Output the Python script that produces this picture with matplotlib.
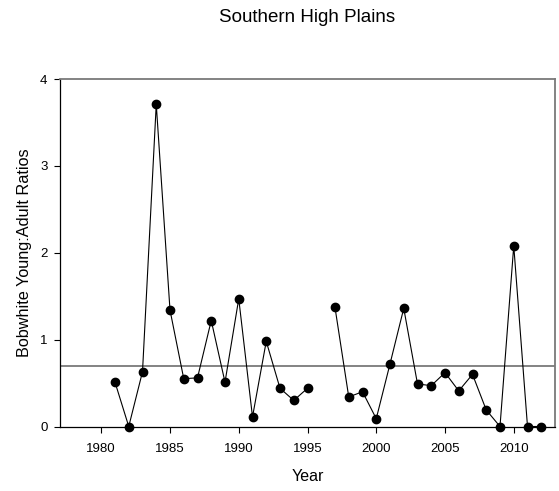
import numpy as np
import matplotlib
matplotlib.use('Agg')
import matplotlib.pyplot as plt

plt.rcParams['font.family'] = ['Liberation Sans', 'DejaVu Sans']

# young:adult ratios by year (no survey in 1996)
years = [1981, 1982, 1983, 1984, 1985, 1986, 1987, 1988, 1989, 1990, 1991, 1992,
         1993, 1994, 1995, 1996, 1997, 1998, 1999, 2000, 2001, 2002, 2003, 2004,
         2005, 2006, 2007, 2008, 2009, 2010, 2011, 2012]
ratios = [0.51, 0.0, 0.63, 3.71, 1.34, 0.55, 0.56, 1.22, 0.51, 1.47, 0.11, 0.98,
          0.44, 0.30, 0.44, np.nan, 1.37, 0.34, 0.40, 0.09, 0.72, 1.36, 0.49, 0.47,
          0.62, 0.41, 0.60, 0.19, 0.0, 2.08, 0.0, 0.0]
mean_ratio = 0.70
x_ticks = [1980, 1985, 1990, 1995, 2000, 2005, 2010]
y_ticks = [0, 1, 2, 3, 4]

fig = plt.figure(figsize=(5.59, 4.91), dpi=100)
ax = fig.add_axes([60/559, 1-426.5/491, (555-60)/559, (426.5-79)/491])

ax.axhline(mean_ratio, color='#7a7a7a', lw=1.3, zorder=1)
ax.plot(years, ratios, color='black', lw=0.8, marker='o', ms=6, mfc='black', mec='black', clip_on=False, zorder=3)

ax.set_xlim(1977, 2013)
ax.set_ylim(0, 4)
ax.set_xticks(x_ticks)
ax.set_yticks(y_ticks)
ax.tick_params(direction='out', length=4, width=0.8, labelsize=9.5, colors='black')
ax.tick_params(axis='x', pad=8)
ax.tick_params(axis='y', pad=5)
for side in ['top', 'right']:
    ax.spines[side].set_color('#7a7a7a')
    ax.spines[side].set_linewidth(1.3)
for side in ['left', 'bottom']:
    ax.spines[side].set_color('black')
    ax.spines[side].set_linewidth(0.9)

ax.set_xlabel('Year', fontsize=11.5, labelpad=10)
ax.set_ylabel('Bobwhite Young:Adult Ratios', fontsize=11.7, labelpad=6)
fig.text((60+555)/2/559, 1-18/491, 'Southern High Plains', ha='center', va='center', fontsize=13.5)

fig.savefig('out.png', dpi=100)
